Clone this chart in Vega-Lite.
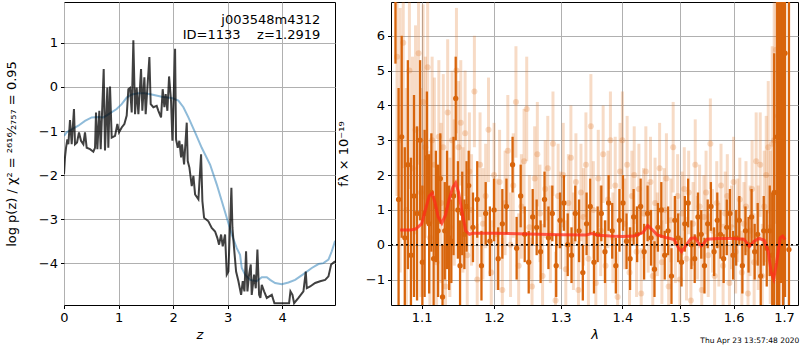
{
"$schema": "https://vega.github.io/schema/vega-lite/v6.json",
"padding": {"left": 4, "top": 1, "right": 1, "bottom": 0},
"spacing": 0,
"config": {
  "font": "DejaVu Sans",
  "view": {"stroke": "black", "strokeWidth": 1},
  "axis": {"grid": true, "gridColor": "#b0b0b0", "gridWidth": 1, "domain": false, "tickColor": "black", "tickSize": 3.5, "labelFontSize": 13, "labelColor": "black", "titleFontSize": 13, "titleFontWeight": "normal", "titleColor": "black", "labelPadding": 3, "labelFlush": false, "labelOverlap": false}
},
"title": {"text": "Thu Apr 23 13:57:48 2020", "orient": "bottom", "anchor": "end", "fontSize": 7.5, "fontWeight": "normal", "offset": -5},
"datasets": {
"pz": [
{"z":0,"v":-1.98},{"z":0.018,"v":-1.60},{"z":0.037,"v":-1.38},{"z":0.061,"v":-1.19},{"z":0.080,"v":-1.30},{"z":0.110,"v":-0.75},{"z":0.141,"v":-1.30},{"z":0.183,"v":-0.50},{"z":0.202,"v":-1.30},{"z":0.239,"v":-1.26},{"z":0.275,"v":-1.03},{"z":0.312,"v":-1.22},{"z":0.355,"v":-1.30},{"z":0.385,"v":-1.03},{"z":0.416,"v":-1.38},{"z":0.477,"v":-1.41},{"z":0.538,"v":-1.47},{"z":0.569,"v":-1.38},{"z":0.587,"v":-0.58},{"z":0.612,"v":-1.41},{"z":0.648,"v":-0.54},{"z":0.673,"v":-1.41},{"z":0.728,"v":0.41},{"z":0.752,"v":-1.44},{"z":0.795,"v":-0.01},{"z":0.813,"v":-1.38},{"z":0.844,"v":0.01},{"z":0.875,"v":-1.15},{"z":0.936,"v":-1.11},{"z":0.979,"v":-0.84},{"z":1.009,"v":-1.03},{"z":1.058,"v":-0.92},{"z":1.107,"v":-0.84},{"z":1.150,"v":-0.65},{"z":1.180,"v":-0.05},{"z":1.211,"v":-0.02},{"z":1.242,"v":-0.58},{"z":1.272,"v":1.06},{"z":1.303,"v":-0.62},{"z":1.333,"v":-0.01},{"z":1.364,"v":-0.62},{"z":1.413,"v":0.41},{"z":1.437,"v":-0.54},{"z":1.474,"v":0.22},{"z":1.498,"v":-0.62},{"z":1.566,"v":0.68},{"z":1.590,"v":-0.39},{"z":1.639,"v":-0.46},{"z":1.700,"v":-0.43},{"z":1.731,"v":-0.54},{"z":1.780,"v":-0.69},{"z":1.810,"v":-0.05},{"z":1.841,"v":-0.46},{"z":1.865,"v":-0.16},{"z":1.896,"v":-0.54},{"z":1.927,"v":0.24},{"z":1.963,"v":-0.31},{"z":1.988,"v":-1.22},{"z":2.006,"v":-0.46},{"z":2.037,"v":0.87},{"z":2.055,"v":-1.19},{"z":2.086,"v":-1.38},{"z":2.116,"v":-1.22},{"z":2.147,"v":-1.60},{"z":2.165,"v":-1.30},{"z":2.202,"v":-1.76},{"z":2.251,"v":-0.81},{"z":2.269,"v":-1.68},{"z":2.300,"v":-1.83},{"z":2.343,"v":-2.25},{"z":2.373,"v":-2.02},{"z":2.404,"v":-2.44},{"z":2.465,"v":-2.55},{"z":2.514,"v":-1.53},{"z":2.538,"v":-2.59},{"z":2.569,"v":-2.97},{"z":2.648,"v":-3.05},{"z":2.709,"v":-3.20},{"z":2.771,"v":-3.28},{"z":2.813,"v":-3.43},{"z":2.844,"v":-3.58},{"z":2.881,"v":-3.35},{"z":2.911,"v":-3.62},{"z":2.954,"v":-3.35},{"z":2.985,"v":-4.26},{"z":3.015,"v":-4.19},{"z":3.070,"v":-2.29},{"z":3.089,"v":-3.20},{"z":3.119,"v":-3.66},{"z":3.156,"v":-4.19},{"z":3.199,"v":-4.41},{"z":3.248,"v":-4.72},{"z":3.278,"v":-4.41},{"z":3.309,"v":-4.64},{"z":3.339,"v":-3.73},{"z":3.364,"v":-4.64},{"z":3.394,"v":-4.26},{"z":3.425,"v":-4.03},{"z":3.443,"v":-4.72},{"z":3.486,"v":-4.26},{"z":3.517,"v":-4.57},{"z":3.547,"v":-3.69},{"z":3.578,"v":-4.72},{"z":3.602,"v":-4.79},{"z":3.627,"v":-4.49},{"z":3.670,"v":-4.64},{"z":3.719,"v":-4.79},{"z":3.811,"v":-4.72},{"z":3.859,"v":-4.91},{"z":4.024,"v":-4.91},{"z":4.128,"v":-4.91},{"z":4.153,"v":-4.64},{"z":4.190,"v":-4.72},{"z":4.220,"v":-4.91},{"z":4.300,"v":-4.79},{"z":4.391,"v":-4.64},{"z":4.434,"v":-4.19},{"z":4.453,"v":-4.57},{"z":4.514,"v":-4.53},{"z":4.606,"v":-4.45},{"z":4.697,"v":-4.41},{"z":4.789,"v":-4.38},{"z":4.850,"v":-4.30},{"z":4.899,"v":-4.03},{"z":4.972,"v":-3.96}
],
"prior": [
{"z":0,"v":-1.11},{"z":0.049,"v":-1.03},{"z":0.141,"v":-0.96},{"z":0.263,"v":-0.88},{"z":0.385,"v":-0.77},{"z":0.508,"v":-0.69},{"z":0.630,"v":-0.68},{"z":0.722,"v":-0.69},{"z":0.813,"v":-0.62},{"z":0.966,"v":-0.50},{"z":1.058,"v":-0.39},{"z":1.150,"v":-0.24},{"z":1.242,"v":-0.17},{"z":1.364,"v":-0.14},{"z":1.486,"v":-0.14},{"z":1.609,"v":-0.17},{"z":1.792,"v":-0.22},{"z":1.976,"v":-0.25},{"z":2.098,"v":-0.31},{"z":2.190,"v":-0.46},{"z":2.281,"v":-0.69},{"z":2.404,"v":-1.03},{"z":2.526,"v":-1.38},{"z":2.679,"v":-1.76},{"z":2.801,"v":-2.21},{"z":2.893,"v":-2.59},{"z":2.985,"v":-2.97},{"z":3.076,"v":-3.35},{"z":3.168,"v":-3.66},{"z":3.229,"v":-3.81},{"z":3.260,"v":-4.11},{"z":3.321,"v":-4.26},{"z":3.413,"v":-4.38},{"z":3.535,"v":-4.41},{"z":3.627,"v":-4.32},{"z":3.719,"v":-4.32},{"z":3.780,"v":-4.38},{"z":3.872,"v":-4.45},{"z":3.994,"v":-4.48},{"z":4.116,"v":-4.44},{"z":4.239,"v":-4.38},{"z":4.391,"v":-4.25},{"z":4.544,"v":-4.11},{"z":4.667,"v":-4.02},{"z":4.758,"v":-4.00},{"z":4.850,"v":-3.92},{"z":4.911,"v":-3.73},{"z":4.972,"v":-3.49}
],
"lab": [
{"z":4.70,"v":1.51,"t":"j003548m4312"},
{"z":4.70,"v":1.19,"t":"ID=1133\u00a0\u00a0\u00a0\u00a0z=1.2919"}
],
"dark": [
{"l":1.066,"f":8.6,"e":3.4},{"l":1.070,"f":1.3,"e":3.2},{"l":1.074,"f":3.1,"e":2.9},{"l":1.078,"f":0.2,"e":2.6},{"l":1.082,"f":2.3,"e":3.0},{"l":1.086,"f":-0.3,"e":2.8},{"l":1.090,"f":1.4,"e":2.9},{"l":1.094,"f":0.9,"e":2.5},{"l":1.098,"f":3.0,"e":2.3},{"l":1.101,"f":-0.5,"e":2.2},{"l":1.104,"f":0.9,"e":2.4},{"l":1.107,"f":2.5,"e":1.9},{"l":1.110,"f":0.6,"e":2.0},{"l":1.113,"f":1.5,"e":1.7},{"l":1.116,"f":-0.4,"e":1.8},{"l":1.119,"f":1.1,"e":1.6},{"l":1.122,"f":0.4,"e":1.9},{"l":1.125,"f":1.9,"e":1.3},{"l":1.128,"f":-1.5,"e":1.5},{"l":1.131,"f":0.4,"e":1.4},{"l":1.134,"f":1.0,"e":1.7},{"l":1.137,"f":0.2,"e":1.5},{"l":1.140,"f":0.1,"e":1.2},{"l":1.143,"f":1.4,"e":1.7},{"l":1.146,"f":4.2,"e":1.2},{"l":1.149,"f":1.0,"e":1.4},{"l":1.152,"f":-0.6,"e":1.3},{"l":1.155,"f":0.9,"e":1.2},{"l":1.158,"f":0.3,"e":1.0},{"l":1.161,"f":1.1,"e":1.3},{"l":1.164,"f":1.7,"e":1.0},
{"l":1.170,"f":0.5,"e":1.0},{"l":1.176,"f":1.3,"e":1.1},{"l":1.182,"f":-0.6,"e":1.0},{"l":1.188,"f":0.9,"e":0.9},{"l":1.194,"f":0.1,"e":1.0},{"l":1.200,"f":1.0,"e":0.9},{"l":1.206,"f":-0.4,"e":0.9},{"l":1.212,"f":0.6,"e":1.0},{"l":1.218,"f":1.1,"e":0.8},{"l":1.227,"f":2.3,"e":0.8},{"l":1.233,"f":-0.1,"e":0.9},{"l":1.239,"f":1.4,"e":0.9},{"l":1.245,"f":0.3,"e":0.8},{"l":1.251,"f":-0.5,"e":0.9},{"l":1.257,"f":0.8,"e":0.8},{"l":1.263,"f":0.5,"e":0.8},{"l":1.269,"f":-0.2,"e":0.9},{"l":1.275,"f":1.3,"e":0.8},{"l":1.281,"f":0.2,"e":0.9},{"l":1.287,"f":0.9,"e":0.8},{"l":1.293,"f":-0.6,"e":0.9},{"l":1.299,"f":0.7,"e":0.8},{"l":1.305,"f":1.2,"e":0.8},{"l":1.311,"f":0.0,"e":0.9},{"l":1.317,"f":-0.3,"e":0.8},{"l":1.323,"f":0.9,"e":0.8},{"l":1.329,"f":0.4,"e":0.9},{"l":1.335,"f":-0.8,"e":0.8},{"l":1.341,"f":0.6,"e":0.9},{"l":1.347,"f":1.1,"e":0.8},{"l":1.353,"f":-0.5,"e":0.9},{"l":1.359,"f":0.3,"e":0.8},{"l":1.365,"f":0.9,"e":0.8},{"l":1.371,"f":-0.2,"e":0.9},{"l":1.377,"f":1.2,"e":0.8},{"l":1.383,"f":0.4,"e":0.8},{"l":1.389,"f":-0.6,"e":0.8},{"l":1.395,"f":0.7,"e":0.9},{"l":1.401,"f":1.2,"e":0.8},{"l":1.407,"f":0.1,"e":0.8},{"l":1.413,"f":-0.4,"e":0.9},{"l":1.419,"f":0.8,"e":0.8},{"l":1.425,"f":0.3,"e":0.8},{"l":1.431,"f":1.1,"e":0.8},{"l":1.437,"f":-0.2,"e":0.8},{"l":1.443,"f":0.9,"e":0.8},{"l":1.449,"f":0.2,"e":0.8},{"l":1.455,"f":-0.7,"e":0.8},{"l":1.461,"f":0.5,"e":0.7},{"l":1.467,"f":1.0,"e":0.8},{"l":1.473,"f":-0.3,"e":0.7},{"l":1.479,"f":0.4,"e":0.7},{"l":1.485,"f":-0.9,"e":0.8},{"l":1.491,"f":0.7,"e":0.7},{"l":1.497,"f":0.2,"e":0.7},{"l":1.503,"f":-0.5,"e":0.7},{"l":1.509,"f":0.6,"e":0.8},{"l":1.515,"f":1.2,"e":0.7},{"l":1.521,"f":0.0,"e":0.7},{"l":1.527,"f":-0.4,"e":0.7},{"l":1.533,"f":0.8,"e":0.7},{"l":1.539,"f":0.3,"e":0.7},{"l":1.545,"f":-0.6,"e":0.8},{"l":1.551,"f":0.6,"e":0.7},{"l":1.557,"f":1.1,"e":0.7},{"l":1.563,"f":-0.2,"e":0.7},{"l":1.569,"f":0.7,"e":0.8},{"l":1.575,"f":0.3,"e":0.7},{"l":1.581,"f":-0.4,"e":0.7},{"l":1.587,"f":0.5,"e":0.8},{"l":1.593,"f":0.9,"e":0.7},{"l":1.599,"f":-0.3,"e":0.7},{"l":1.605,"f":0.2,"e":0.8},{"l":1.611,"f":0.7,"e":0.7},{"l":1.617,"f":-0.6,"e":0.8},{"l":1.623,"f":0.4,"e":0.7},{"l":1.629,"f":0.0,"e":0.8},{"l":1.635,"f":0.8,"e":0.8},{"l":1.641,"f":-0.2,"e":0.8},{"l":1.647,"f":0.3,"e":0.9},{"l":1.653,"f":-0.9,"e":0.9},{"l":1.659,"f":0.4,"e":1.0},{"l":1.665,"f":-0.1,"e":1.1},{"l":1.671,"f":0.4,"e":1.3},
{"l":1.676,"f":-0.3,"e":1.8},{"l":1.680,"f":1.5,"e":4.0},{"l":1.686,"f":3.1,"e":5.5},{"l":1.690,"f":4.2,"e":6.0},{"l":1.694,"f":5.4,"e":6.5},{"l":1.698,"f":3.1,"e":6.0},{"l":1.702,"f":5.5,"e":7.0},{"l":1.710,"f":-0.14,"e":8.0}
],
"light": [
{"l":1.068,"f":5.4,"e":4.0},{"l":1.072,"f":3.0,"e":3.8},{"l":1.076,"f":5.8,"e":3.6},{"l":1.080,"f":1.0,"e":3.5},{"l":1.084,"f":5.0,"e":3.4},{"l":1.088,"f":2.2,"e":3.2},{"l":1.092,"f":3.3,"e":3.0},{"l":1.096,"f":5.5,"e":3.2},{"l":1.099,"f":1.5,"e":3.0},{"l":1.102,"f":4.1,"e":2.8},{"l":1.105,"f":2.8,"e":2.6},{"l":1.108,"f":5.1,"e":2.8},{"l":1.111,"f":0.2,"e":2.5},{"l":1.114,"f":3.0,"e":2.4},{"l":1.117,"f":2.3,"e":2.5},{"l":1.120,"f":-0.5,"e":2.4},{"l":1.123,"f":3.1,"e":2.2},{"l":1.126,"f":1.2,"e":2.3},{"l":1.129,"f":2.8,"e":2.1},{"l":1.132,"f":-1.2,"e":2.2},{"l":1.135,"f":3.8,"e":2.1},{"l":1.138,"f":0.5,"e":2.0},{"l":1.141,"f":3.0,"e":2.0},{"l":1.144,"f":1.5,"e":2.1},{"l":1.147,"f":5.0,"e":1.8},{"l":1.150,"f":2.8,"e":1.9},{"l":1.153,"f":3.5,"e":1.8},{"l":1.156,"f":1.0,"e":1.8},{"l":1.159,"f":3.2,"e":1.8},{"l":1.162,"f":-0.3,"e":1.7},{"l":1.165,"f":2.1,"e":1.7},{"l":1.168,"f":1.0,"e":1.6},{"l":1.172,"f":4.4,"e":1.6},{"l":1.176,"f":-1.0,"e":1.6},{"l":1.180,"f":2.3,"e":1.5},{"l":1.184,"f":0.6,"e":1.6},{"l":1.188,"f":1.4,"e":1.5},{"l":1.192,"f":3.3,"e":1.5},{"l":1.196,"f":-0.8,"e":1.5},{"l":1.200,"f":2.0,"e":1.5},{"l":1.204,"f":0.3,"e":1.6},{"l":1.208,"f":1.8,"e":1.5},{"l":1.212,"f":-1.3,"e":1.5},{"l":1.216,"f":1.2,"e":1.5},{"l":1.220,"f":2.7,"e":1.6},{"l":1.224,"f":0.0,"e":1.5},{"l":1.228,"f":1.7,"e":1.5},{"l":1.232,"f":4.1,"e":1.6},{"l":1.236,"f":-0.6,"e":1.5},{"l":1.240,"f":1.1,"e":1.5},{"l":1.244,"f":2.4,"e":1.5},{"l":1.248,"f":3.9,"e":1.5},{"l":1.252,"f":0.5,"e":1.5},{"l":1.256,"f":-1.2,"e":1.4},{"l":1.260,"f":1.9,"e":1.5},{"l":1.264,"f":2.6,"e":1.5},{"l":1.268,"f":0.9,"e":1.4},{"l":1.272,"f":-0.9,"e":1.5},{"l":1.276,"f":1.6,"e":1.4},{"l":1.280,"f":2.2,"e":1.5},{"l":1.284,"f":0.3,"e":1.4},{"l":1.288,"f":2.9,"e":1.5},{"l":1.292,"f":-1.6,"e":1.4},{"l":1.296,"f":1.4,"e":1.5},{"l":1.300,"f":0.7,"e":1.4},{"l":1.304,"f":2.0,"e":1.5},{"l":1.308,"f":-0.7,"e":1.4},{"l":1.312,"f":1.2,"e":1.4},{"l":1.316,"f":2.5,"e":1.5},{"l":1.320,"f":0.1,"e":1.4},{"l":1.324,"f":1.8,"e":1.4},{"l":1.328,"f":-1.3,"e":1.4},{"l":1.332,"f":1.5,"e":1.4},{"l":1.336,"f":0.8,"e":1.4},{"l":1.340,"f":2.3,"e":1.5},{"l":1.344,"f":-0.4,"e":1.4},{"l":1.348,"f":3.4,"e":1.5},{"l":1.352,"f":1.0,"e":1.4},{"l":1.356,"f":-1.1,"e":1.4},{"l":1.360,"f":1.9,"e":1.4},{"l":1.364,"f":0.4,"e":1.3},{"l":1.368,"f":2.6,"e":1.4},{"l":1.372,"f":-0.6,"e":1.3},{"l":1.376,"f":1.3,"e":1.4},{"l":1.380,"f":3.0,"e":1.4},{"l":1.384,"f":0.2,"e":1.3},{"l":1.388,"f":1.7,"e":1.4},{"l":1.392,"f":-1.5,"e":1.3},{"l":1.396,"f":2.1,"e":1.4},{"l":1.400,"f":3.0,"e":1.4},{"l":1.404,"f":0.6,"e":1.3},{"l":1.408,"f":2.3,"e":1.4},{"l":1.412,"f":-0.8,"e":1.3},{"l":1.416,"f":1.4,"e":1.3},{"l":1.420,"f":2.0,"e":1.4},{"l":1.424,"f":-0.2,"e":1.3},{"l":1.428,"f":1.6,"e":1.3},{"l":1.432,"f":-1.4,"e":1.3},{"l":1.436,"f":0.9,"e":1.3},{"l":1.440,"f":2.1,"e":1.3},{"l":1.444,"f":0.5,"e":1.3},{"l":1.448,"f":1.8,"e":1.3},{"l":1.452,"f":-0.9,"e":1.3},{"l":1.456,"f":1.2,"e":1.3},{"l":1.460,"f":0.3,"e":1.2},{"l":1.464,"f":2.2,"e":1.3},{"l":1.468,"f":-0.5,"e":1.2},{"l":1.472,"f":1.0,"e":1.2},{"l":1.476,"f":1.9,"e":1.3},{"l":1.480,"f":-1.2,"e":1.2},{"l":1.484,"f":0.7,"e":1.2},{"l":1.488,"f":2.8,"e":1.3},{"l":1.492,"f":0.1,"e":1.2},{"l":1.496,"f":1.4,"e":1.2},{"l":1.500,"f":-1.0,"e":1.2},{"l":1.504,"f":0.9,"e":1.2},{"l":1.508,"f":1.6,"e":1.2},{"l":1.512,"f":-0.4,"e":1.2},{"l":1.516,"f":1.5,"e":1.2},{"l":1.520,"f":-1.6,"e":1.2},{"l":1.524,"f":0.6,"e":1.2},{"l":1.528,"f":2.3,"e":1.3},{"l":1.532,"f":0.2,"e":1.2},{"l":1.536,"f":1.1,"e":1.2},{"l":1.540,"f":-1.3,"e":1.2},{"l":1.544,"f":0.8,"e":1.2},{"l":1.548,"f":1.5,"e":1.2},{"l":1.552,"f":-0.3,"e":1.2},{"l":1.556,"f":2.9,"e":1.3},{"l":1.560,"f":0.4,"e":1.2},{"l":1.564,"f":-0.9,"e":1.2},{"l":1.568,"f":1.2,"e":1.2},{"l":1.572,"f":0.0,"e":1.2},{"l":1.576,"f":1.7,"e":1.2},{"l":1.580,"f":-0.6,"e":1.2},{"l":1.584,"f":0.9,"e":1.2},{"l":1.588,"f":1.4,"e":1.2},{"l":1.592,"f":-1.1,"e":1.2},{"l":1.596,"f":0.5,"e":1.2},{"l":1.600,"f":1.8,"e":1.3},{"l":1.604,"f":-0.2,"e":1.2},{"l":1.608,"f":0.7,"e":1.2},{"l":1.612,"f":1.3,"e":1.2},{"l":1.616,"f":-0.8,"e":1.2},{"l":1.620,"f":0.6,"e":1.2},{"l":1.624,"f":1.1,"e":1.3},{"l":1.628,"f":-1.4,"e":1.3},{"l":1.632,"f":0.4,"e":1.3},{"l":1.636,"f":1.6,"e":1.4},{"l":1.640,"f":-0.5,"e":1.4},{"l":1.644,"f":2.4,"e":1.4},{"l":1.648,"f":0.2,"e":1.5},{"l":1.652,"f":2.3,"e":1.5},{"l":1.656,"f":-0.9,"e":1.5},{"l":1.660,"f":1.1,"e":1.6},{"l":1.664,"f":2.0,"e":1.7},{"l":1.668,"f":2.8,"e":1.9},{"l":1.672,"f":0.5,"e":2.2},{"l":1.676,"f":2.9,"e":2.8},{"l":1.680,"f":3.0,"e":4.0},{"l":1.684,"f":5.6,"e":5.0},{"l":1.688,"f":3.7,"e":5.5},{"l":1.692,"f":1.5,"e":6.0}
],
"model": [
{"l":1.072,"f":0.42},{"l":1.085,"f":0.42},{"l":1.092,"f":0.45},{"l":1.100,"f":0.6},{"l":1.105,"f":1.0},{"l":1.110,"f":1.4},{"l":1.114,"f":1.48},{"l":1.118,"f":1.2},{"l":1.122,"f":0.8},{"l":1.127,"f":0.62},{"l":1.132,"f":0.85},{"l":1.137,"f":1.3},{"l":1.142,"f":1.65},{"l":1.146,"f":1.78},{"l":1.150,"f":1.5},{"l":1.155,"f":0.9},{"l":1.160,"f":0.4},{"l":1.165,"f":0.3},{"l":1.170,"f":0.33},{"l":1.200,"f":0.33},{"l":1.250,"f":0.31},{"l":1.300,"f":0.29},{"l":1.340,"f":0.28},{"l":1.350,"f":0.32},{"l":1.360,"f":0.27},{"l":1.380,"f":0.25},{"l":1.400,"f":0.24},{"l":1.420,"f":0.25},{"l":1.435,"f":0.35},{"l":1.443,"f":0.55},{"l":1.450,"f":0.45},{"l":1.460,"f":0.28},{"l":1.475,"f":0.21},{"l":1.490,"f":0.15},{"l":1.498,"f":-0.1},{"l":1.503,"f":-0.2},{"l":1.510,"f":-0.05},{"l":1.520,"f":0.18},{"l":1.528,"f":0.2},{"l":1.535,"f":0.02},{"l":1.540,"f":-0.03},{"l":1.550,"f":0.16},{"l":1.570,"f":0.18},{"l":1.600,"f":0.18},{"l":1.620,"f":0.16},{"l":1.631,"f":-0.05},{"l":1.640,"f":0.1},{"l":1.650,"f":0.18},{"l":1.660,"f":0.13},{"l":1.668,"f":-0.2},{"l":1.674,"f":-0.8},{"l":1.679,"f":-0.98},{"l":1.685,"f":-0.5},{"l":1.692,"f":0.2},{"l":1.697,"f":0.25},{"l":1.702,"f":0.15}
]
},
"hconcat": [
{
 "width": 271, "height": 303,
 "layer": [
  {"data": {"name": "prior"},
   "mark": {"type": "line", "color": "#1f77b4", "opacity": 0.5, "strokeWidth": 2, "clip": true},
   "encoding": {
    "x": {"field": "z", "type": "quantitative", "scale": {"domain": [0, 4.97], "nice": false, "zero": false}, "axis": {"values": [0,1,2,3,4], "titleFontStyle": "italic"}, "title": "z"},
    "y": {"field": "v", "type": "quantitative", "scale": {"domain": [-4.95, 1.93], "nice": false, "zero": false}, "axis": {"values": [-4,-3,-2,-1,0,1], "titlePadding": 20}, "title": "log p(z) / χ² = ²⁶¹⁶⁄₂₇₅₇ = 0.95"}
   }},
  {"data": {"name": "pz"},
   "mark": {"type": "line", "color": "black", "opacity": 0.75, "strokeWidth": 2, "clip": true},
   "encoding": {
    "x": {"field": "z", "type": "quantitative", "title": "z"},
    "y": {"field": "v", "type": "quantitative", "title": "log p(z) / χ² = ²⁶¹⁶⁄₂₇₅₇ = 0.95"}
   }},
  {"data": {"name": "lab"},
   "mark": {"type": "text", "align": "right", "baseline": "middle", "fontSize": 13, "color": "black"},
   "encoding": {
    "x": {"field": "z", "type": "quantitative", "title": "z"},
    "y": {"field": "v", "type": "quantitative", "title": "log p(z) / χ² = ²⁶¹⁶⁄₂₇₅₇ = 0.95"},
    "text": {"field": "t"}
   }}
 ]
},
{
 "width": 407, "height": 303,
 "layer": [
  {"data": {"name": "light"},
   "mark": {"type": "errorbar", "color": "#e0701a", "opacity": 0.25, "thickness": 3, "clip": true},
   "encoding": {
    "x": {"field": "l", "type": "quantitative", "scale": {"type": "log", "domain": [1.0603, 1.7287], "nice": false}, "axis": {"values": [1.1,1.2,1.3,1.4,1.5,1.6,1.7], "format": ".1f", "titleFontStyle": "italic"}, "title": "λ"},
    "y": {"field": "f", "type": "quantitative", "scale": {"domain": [-1.73, 6.97], "nice": false, "zero": false}, "axis": {"values": [-1,0,1,2,3,4,5,6], "titlePadding": 15}, "title": "fλ × 10⁻¹⁹"},
    "yError": {"field": "e"}
   }},
  {"data": {"name": "light"},
   "mark": {"type": "point", "filled": true, "color": "#e0701a", "opacity": 0.25, "size": 36, "clip": true},
   "encoding": {
    "x": {"field": "l", "type": "quantitative", "title": "λ"},
    "y": {"field": "f", "type": "quantitative", "title": "fλ × 10⁻¹⁹"}
   }},
  {"data": {"name": "dark"},
   "mark": {"type": "errorbar", "color": "#d8650c", "thickness": 2.3, "clip": true},
   "encoding": {
    "x": {"field": "l", "type": "quantitative", "title": "λ"},
    "y": {"field": "f", "type": "quantitative", "title": "fλ × 10⁻¹⁹"},
    "yError": {"field": "e"}
   }},
  {"data": {"name": "dark"},
   "mark": {"type": "point", "filled": true, "color": "#d8650c", "opacity": 1, "size": 28, "clip": true},
   "encoding": {
    "x": {"field": "l", "type": "quantitative", "title": "λ"},
    "y": {"field": "f", "type": "quantitative", "title": "fλ × 10⁻¹⁹"}
   }},
  {"data": {"name": "model"},
   "mark": {"type": "line", "color": "#ff2a1a", "opacity": 0.75, "strokeWidth": 3, "clip": true},
   "encoding": {
    "x": {"field": "l", "type": "quantitative", "title": "λ"},
    "y": {"field": "f", "type": "quantitative", "title": "fλ × 10⁻¹⁹"}
   }},
  {"data": {"values": [{}]},
   "mark": {"type": "rule", "color": "black", "strokeWidth": 1.5, "strokeDash": [2, 3]},
   "encoding": {"y": {"datum": 0, "type": "quantitative"}}}
 ]
}
]
}
